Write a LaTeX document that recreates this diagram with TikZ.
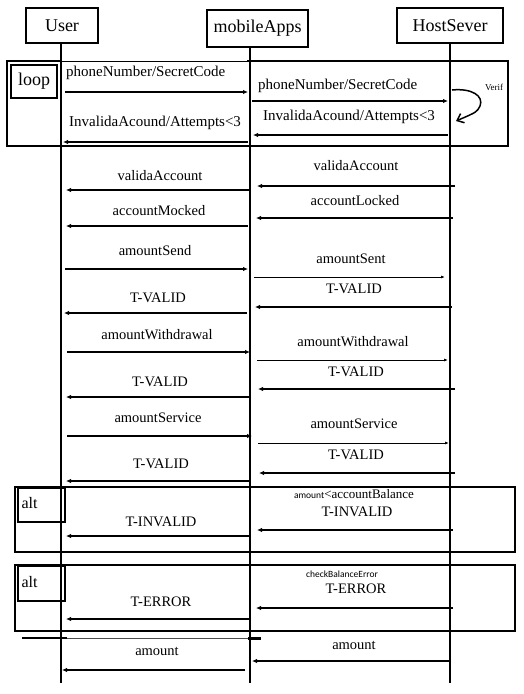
\documentclass[tikz,border=0pt]{standalone}
\usepackage{fontspec}
\setmainfont{Liberation Serif}
\newfontfamily\smallsans{Carlito}
\usetikzlibrary{arrows.meta}
\begin{document}
\begin{tikzpicture}[x=1pt,y=-1pt,
  headbox/.style={draw,line width=2.5pt,inner sep=0pt,font=\fontsize{18}{20}\selectfont},
  lifeline/.style={line width=1.5pt},
  frame/.style={draw,line width=2.5pt},
  tagbox/.style={draw,line width=2.2pt,inner sep=0pt,anchor=north west},
  msg/.style={line width=1.6pt,-{Latex[length=5pt,width=4.5pt]}},
  thinmsg/.style={line width=1pt,-{Latex[length=4pt,width=3pt]}},
  lbl/.style={inner sep=0pt,font=\fontsize{14.5}{16}\selectfont},
  looplbl/.style={inner sep=0pt,anchor=west,font=\fontsize{15}{17}\selectfont}]
\useasboundingbox[fill=white] (0,0) rectangle (524,694);

% heads
\node[headbox,minimum width=72pt,minimum height=35pt] (user) at (62,25.5) {User};
\node[headbox,minimum width=101pt,minimum height=37pt] (mobile) at (257.5,28.5) {mobileApps};
\node[headbox,minimum width=106pt,minimum height=35pt] (host) at (450,25.5) {HostSever};

% lifelines
\coordinate (uTop) at (61,43);  \coordinate (uBot) at (61,683);
\coordinate (mTop) at (250,47); \coordinate (mBot) at (250,683);
\coordinate (hTop) at (450,43); \coordinate (hBot) at (450,683);
\draw[lifeline] (uTop) -- (uBot);
\draw[lifeline] (mTop) -- (mBot);
\draw[lifeline] (hTop) -- (hBot);

% loop frame
\draw[line width=2.5pt] (61,61) -- (7,61) -- (7,146) -- (508,146) -- (508,61) -- (247,61);
\draw[line width=0.8pt] (61,61) -- (247,61);
\node[tagbox,minimum width=46pt,minimum height=33pt,font=\fontsize{18}{20}\selectfont] (loop) at (10,64) {loop};

% loop messages
\coordinate (a1) at (65,92);  \coordinate (b1) at (248,92);
\draw[msg] (a1) -- (b1);
\node[looplbl] (l1) at (66,73) {phoneNumber/SecretCode};
\coordinate (a2) at (252,101); \coordinate (b2) at (448,101);
\draw[msg] (a2) -- (b2);
\node[looplbl] (l2) at (258,86) {phoneNumber/SecretCode};
\coordinate (a3) at (448,135); \coordinate (b3) at (253,135);
\draw[msg] (a3) -- (b3);
\node[looplbl] (l3) at (263,117) {InvalidaAcound/Attempts<3};
\coordinate (a4) at (248,142); \coordinate (b4) at (63,142);
\draw[msg] (a4) -- (b4);
\node[looplbl] (l4) at (69,123) {InvalidaAcound/Attempts<3};

% Verif self call
\coordinate (vA) at (452,90); \coordinate (vB) at (456,121);
\draw[line width=1.5pt,-{Straight Barb[length=6pt,width=10pt]}] (vA) .. controls (472,88) and (484,96) .. (480,106) .. controls (477,112) .. (vB);
\node[inner sep=0pt,font=\fontsize{9}{10}\selectfont] (verif) at (494,87) {Verif};

% validaAccount
\coordinate (a5) at (455,186); \coordinate (b5) at (257,186);
\draw[msg] (a5) -- (b5);
\node[lbl] (l5) at (356,166) {validaAccount};
\coordinate (a6) at (250,190); \coordinate (b6) at (66,190);
\draw[msg] (a6) -- (b6);
\node[lbl] (l6) at (160,176) {validaAccount};

% accountLocked / Mocked
\coordinate (a7) at (453,218); \coordinate (b7) at (256,218);
\draw[msg] (a7) -- (b7);
\node[lbl] (l7) at (355,201) {accountLocked};
\coordinate (a8) at (248,226); \coordinate (b8) at (66,226);
\draw[msg] (a8) -- (b8);
\node[lbl] (l8) at (159,211) {accountMocked};

% amountSend / Sent
\coordinate (a9) at (65,269); \coordinate (b9) at (248,269);
\draw[msg] (a9) -- (b9);
\node[lbl] (l9) at (155,251) {amountSend};
\coordinate (a10) at (254,277); \coordinate (b10) at (445,277);
\draw[thinmsg] (a10) -- (b10);
\node[lbl] (l10) at (351,259) {amountSent};

% T-VALID
\coordinate (a11) at (452,307); \coordinate (b11) at (255,307);
\draw[msg] (a11) -- (b11);
\node[lbl] (l11) at (354,289) {T-VALID};
\coordinate (a12) at (247,313); \coordinate (b12) at (64,313);
\draw[msg] (a12) -- (b12);
\node[lbl] (l12) at (158,298) {T-VALID};

% amountWithdrawal
\coordinate (a13) at (67,352); \coordinate (b13) at (250,352);
\draw[msg] (a13) -- (b13);
\node[lbl] (l13) at (157,335) {amountWithdrawal};
\coordinate (a14) at (257,360); \coordinate (b14) at (448,360);
\draw[thinmsg] (a14) -- (b14);
\node[lbl] (l14) at (353,342) {amountWithdrawal};

% T-VALID
\coordinate (a15) at (455,389); \coordinate (b15) at (258,389);
\draw[msg] (a15) -- (b15);
\node[lbl] (l15) at (356,372) {T-VALID};
\coordinate (a16) at (250,397); \coordinate (b16) at (66,397);
\draw[msg] (a16) -- (b16);
\node[lbl] (l16) at (160,382) {T-VALID};

% amountService
\coordinate (a17) at (67,436); \coordinate (b17) at (252,436);
\draw[msg] (a17) -- (b17);
\node[lbl] (l17) at (158,418) {amountService};
\coordinate (a18) at (258,443); \coordinate (b18) at (449,443);
\draw[thinmsg] (a18) -- (b18);
\node[lbl] (l18) at (354,424) {amountService};

% T-VALID
\coordinate (a19) at (455,473); \coordinate (b19) at (259,473);
\draw[msg] (a19) -- (b19);
\node[lbl] (l19) at (356,455) {T-VALID};
\coordinate (a20) at (250,481); \coordinate (b20) at (66,481);
\draw[msg] (a20) -- (b20);
\node[lbl] (l20) at (161,464) {T-VALID};

% alt 1
\draw[frame] (15,487) rectangle (515,552);
\node[tagbox,minimum width=47pt,minimum height=34pt,font=\fontsize{16}{18}\selectfont,align=left,text width=44pt] (alt1) at (17,487) {\hspace{2pt}alt\vphantom{p}\\[12pt]};
\node[inner sep=0pt] (cond1) at (354,494) {{\smallsans\fontsize{9.5}{11}\selectfont amount}{\fontsize{13}{15}\selectfont<accountBalance}};
\coordinate (a21) at (453,530); \coordinate (b21) at (257,530);
\draw[msg] (a21) -- (b21);
\node[lbl] (l21) at (357,512) {T-INVALID};
\coordinate (a22) at (250,536); \coordinate (b22) at (66,536);
\draw[msg] (a22) -- (b22);
\node[lbl] (l22) at (161,522) {T-INVALID};

% alt 2
\draw[frame] (15,565) rectangle (515,631);
\node[tagbox,minimum width=47pt,minimum height=35pt,font=\fontsize{16}{18}\selectfont,align=left,text width=44pt] (alt2) at (17,565) {\hspace{2pt}alt\vphantom{p}\\[12pt]};
\node[inner sep=0pt,font=\smallsans\fontsize{9.5}{11}\selectfont] (cond2) at (342,574) {checkBalanceError};
\coordinate (a23) at (453,608); \coordinate (b23) at (256,608);
\draw[msg] (a23) -- (b23);
\node[lbl] (l23) at (356,589) {T-ERROR};
\coordinate (a24) at (249,619); \coordinate (b24) at (66,619);
\draw[msg] (a24) -- (b24);
\node[lbl] (l24) at (161,602) {T-ERROR};

% separator line
\coordinate (s1) at (22,638); \coordinate (s2) at (67,638); \coordinate (s3) at (248,638); \coordinate (s4) at (261,638);
\draw[line width=1.4pt] (s1) -- (s2);
\draw[line width=0.6pt,black!70] (s2) -- (s3);
\draw[line width=3pt] (s3) -- (s4);

% amount
\coordinate (a25) at (449,661); \coordinate (b25) at (252,661);
\draw[msg] (a25) -- (b25);
\node[lbl] (l25) at (354,645) {amount};
\coordinate (a26) at (245,670); \coordinate (b26) at (62,670);
\draw[msg] (a26) -- (b26);
\node[lbl] (l26) at (157,651) {amount};
\end{tikzpicture}
\end{document}
